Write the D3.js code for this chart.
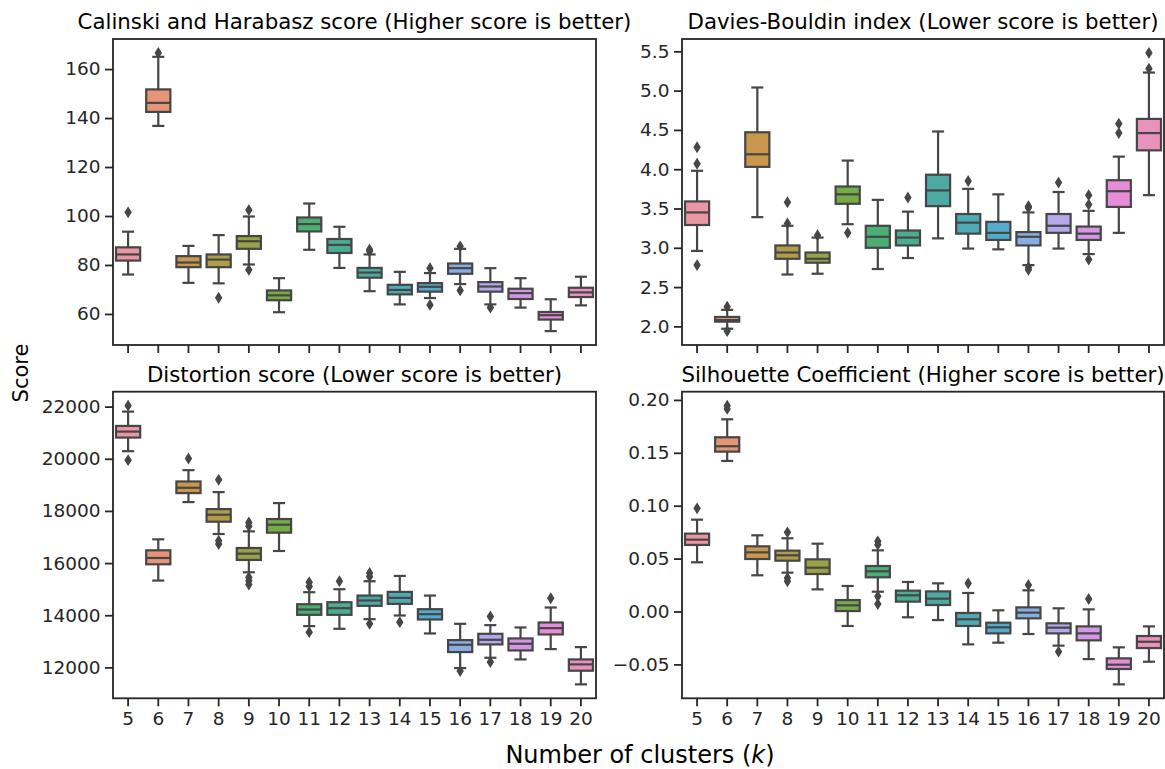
<!DOCTYPE html>
<html>
<head>
<meta charset="utf-8">
<script src="https://cdn.jsdelivr.net/npm/d3@7"></script>
<style>
  html, body { margin: 0; padding: 0; background: #fff; }
  svg { display: block; font-family: "DejaVu Sans", sans-serif; }
</style>
</head>
<body>
<svg id="chart" width="1165" height="769"></svg>
<script>
// Cluster counts on the x axis
const clusterCounts = [5, 6, 7, 8, 9, 10, 11, 12, 13, 14, 15, 16, 17, 18, 19, 20];

// Box statistics per k: [lower whisker, Q1, median, Q3, upper whisker]
const calinskiStats = [
  [76.1, 81.8, 84.3, 87.2, 93.6], [136.8, 142.5, 146.2, 151.7, 165.0],
  [72.7, 79.1, 81.0, 83.6, 87.8], [72.5, 79.1, 82.2, 84.3, 92.2],
  [80.2, 86.6, 89.7, 91.8, 99.8], [60.7, 65.6, 67.6, 69.6, 74.6],
  [86.2, 93.7, 96.7, 99.4, 105.1], [78.8, 84.9, 88.2, 90.6, 95.6],
  [69.3, 74.8, 76.9, 78.8, 84.3], [63.9, 68.0, 69.8, 71.9, 77.2],
  [66.5, 69.1, 71.1, 72.6, 76.7], [72.2, 76.4, 78.7, 80.6, 86.6],
  [63.9, 69.1, 71.2, 73.0, 78.7], [62.6, 66.1, 68.5, 70.3, 74.6],
  [53.0, 57.7, 59.5, 60.8, 66.0], [63.5, 66.9, 68.8, 70.7, 75.2]
];
const calinskiOutliers = [
  [101.5], [166.6], [], [66.6], [102.4, 78.0], [], [], [],
  [85.6, 86.3], [], [78.7, 63.7], [87.6, 69.6], [62.6], [], [], []
];

const daviesStats = [
  [2.96, 3.29, 3.45, 3.59, 3.98], [1.97, 2.06, 2.08, 2.12, 2.21],
  [3.39, 4.03, 4.19, 4.47, 5.04], [2.66, 2.86, 2.94, 3.03, 3.28],
  [2.67, 2.81, 2.86, 2.94, 3.13], [3.30, 3.56, 3.68, 3.78, 4.11],
  [2.73, 3.00, 3.14, 3.28, 3.61], [2.87, 3.03, 3.13, 3.22, 3.46],
  [3.12, 3.53, 3.73, 3.93, 4.48], [2.99, 3.18, 3.32, 3.43, 3.75],
  [2.98, 3.10, 3.19, 3.33, 3.68], [2.78, 3.03, 3.14, 3.20, 3.45],
  [2.99, 3.19, 3.28, 3.43, 3.71], [2.92, 3.10, 3.18, 3.27, 3.47],
  [3.19, 3.52, 3.72, 3.86, 4.16], [3.67, 4.24, 4.46, 4.64, 5.23]
];
const daviesOutliers = [
  [4.28, 4.07, 2.78], [2.25, 1.94], [], [3.58, 3.31], [3.16], [3.19], [], [3.64],
  [], [3.85], [], [3.53, 3.51, 2.75, 2.72], [3.83], [3.67, 3.55, 2.85], [4.58, 4.46], [5.48, 5.28]
];

const distortionStats = [
  [20291, 20814, 21043, 21260, 21809], [15329, 15954, 16196, 16490, 16911],
  [18339, 18684, 18888, 19130, 19564], [17115, 17587, 17855, 18071, 18722],
  [15648, 16120, 16362, 16579, 17217], [16464, 17166, 17472, 17689, 18301],
  [13582, 14015, 14219, 14423, 14883], [13480, 14015, 14270, 14500, 14997],
  [13850, 14360, 14564, 14755, 15304], [13990, 14436, 14666, 14895, 15508],
  [13301, 13837, 14041, 14232, 14755], [11974, 12587, 12867, 13046, 13671],
  [12370, 12880, 13059, 13288, 13620], [12306, 12650, 12906, 13110, 13531],
  [12702, 13263, 13505, 13722, 14296], [11349, 11872, 12115, 12306, 12778]
];
const distortionOutliers = [
  [22038, 19946], [], [20010], [19194, 16860, 16730],
  [17561, 17408, 15457, 15329, 15176], [], [15265, 15100, 13352], [15304],
  [15622, 15482, 13671], [13735], [], [11860], [13952, 12204], [], [14653], []
];

const silhouetteStats = [
  [0.0465, 0.0629, 0.0679, 0.0736, 0.0868], [0.1423, 0.1511, 0.1562, 0.1647, 0.1817],
  [0.0342, 0.0496, 0.0559, 0.0616, 0.0720], [0.0367, 0.0480, 0.0531, 0.0575, 0.0692],
  [0.0209, 0.0354, 0.0414, 0.0493, 0.0641], [-0.0137, 0.0004, 0.0058, 0.0108, 0.0241],
  [0.0187, 0.0323, 0.0380, 0.0430, 0.0578], [-0.0055, 0.0093, 0.0153, 0.0197, 0.0279],
  [-0.0081, 0.0061, 0.0121, 0.0190, 0.0266], [-0.0311, -0.0137, -0.0074, -0.0014, 0.0175],
  [-0.0295, -0.0207, -0.0150, -0.0106, 0.0011], [-0.0213, -0.0065, -0.0011, 0.0039, 0.0200],
  [-0.0323, -0.0207, -0.0153, -0.0112, 0.0030], [-0.0450, -0.0273, -0.0207, -0.0141, 0.0020],
  [-0.0689, -0.0544, -0.0503, -0.0443, -0.0339], [-0.0475, -0.0346, -0.0286, -0.0232, -0.0141]
];
const silhouetteOutliers = [
  [0.0975], [0.1946, 0.1915], [], [0.0748, 0.0317, 0.0285], [], [], [0.0663, 0.0632, 0.0143, 0.0071], [],
  [], [0.0266], [], [0.0250], [-0.0380], [0.0118], [], []
];

// Y tick values
const calinskiTicks = [60, 80, 100, 120, 140, 160];
const daviesTicks = [2.0, 2.5, 3.0, 3.5, 4.0, 4.5, 5.0, 5.5];
const distortionTicks = [12000, 14000, 16000, 18000, 20000, 22000];
const silhouetteTicks = [-0.05, 0.00, 0.05, 0.10, 0.15, 0.20];

// ---------- HUSL palette (same maths as seaborn's husl module) ----------
const M = [[3.2406, -1.5372, -0.4986], [-0.9689, 1.8758, 0.0415], [0.0557, -0.2040, 1.0570]];
const refU = 0.19784, refV = 0.46834, labE = 0.008856, labK = 903.3;
function maxChroma(L, H) {
  const hr = H * Math.PI / 180, sinH = Math.sin(hr), cosH = Math.cos(hr);
  const sub1 = Math.pow(L + 16, 3) / 1560896;
  const sub2 = sub1 > labE ? sub1 : L / labK;
  let result = Infinity;
  for (const [m1, m2, m3] of M) {
    const top = (0.99915 * m1 + 1.05122 * m2 + 1.14460 * m3) * sub2;
    const rb = 0.86330 * m3 - 0.17266 * m2;
    const lb = 0.12949 * m3 - 0.38848 * m1;
    const bottom = (rb * sinH + lb * cosH) * sub2;
    for (const t of [0, 1]) {
      const C = L * (top - 1.05122 * t) / (bottom + 0.17266 * sinH * t);
      if (C > 0 && C < result) result = C;
    }
  }
  return result;
}
function fromLinear(c) { return c <= 0.0031308 ? 12.92 * c : 1.055 * Math.pow(c, 1 / 2.4) - 0.055; }
function huslToRgb(H, S, L) {
  const C = maxChroma(L, H) / 100 * S;
  const hr = H * Math.PI / 180;
  const U = Math.cos(hr) * C, V = Math.sin(hr) * C;
  const t = (L + 16) / 116;
  const Y = Math.pow(t, 3) > labE ? Math.pow(t, 3) : (116 * t - 16) / labK;
  const vU = U / (13 * L) + refU, vV = V / (13 * L) + refV;
  const X = -(9 * Y * vU) / ((vU - 4) * vV - vU * vV);
  const Z = (9 * Y - 15 * vV * Y - vV * X) / (3 * vV);
  return M.map(r => Math.max(0, Math.min(1, fromLinear(r[0] * X + r[1] * Y + r[2] * Z))));
}
function huslPalette(n, h = 0.01, s = 0.9, l = 0.7) {
  const out = [];
  for (let i = 0; i < n; i++) {
    const hue = ((i / n + h) % 1) * 359;
    out.push(huslToRgb(hue, s * 99, l * 99));
  }
  return out;
}
// Boxes use the palette desaturated to 75%
const boxColors = huslPalette(clusterCounts.length).map(([r, g, b]) => {
  const c = d3.hsl(d3.rgb(r * 255, g * 255, b * 255));
  c.s *= 0.75;
  return c.rgb();
});
const minLight = d3.min(boxColors, c => d3.hsl(c).l);
const grayLevel = Math.round(minLight * 0.6 * 255);
const lineGray = d3.rgb(grayLevel, grayLevel, grayLevel).formatHex();

// ---------- layout ----------
const svg = d3.select("#chart");
const ink = "#262626";
const tickFont = 18.5;
const colX = [[113, 596], [682, 1164]];
const rowY = [[39, 345], [391.7, 698.3]];

const panels = [
  { title: "Calinski and Harabasz score (Higher score is better)", stats: calinskiStats, outliers: calinskiOutliers, ticks: calinskiTicks, fmt: d3.format("d"), col: 0, row: 0 },
  { title: "Davies-Bouldin index (Lower score is better)", stats: daviesStats, outliers: daviesOutliers, ticks: daviesTicks, fmt: d3.format(".1f"), col: 1, row: 0 },
  { title: "Distortion score (Lower score is better)", stats: distortionStats, outliers: distortionOutliers, ticks: distortionTicks, fmt: d3.format("d"), col: 0, row: 1 },
  { title: "Silhouette Coefficient (Higher score is better)", stats: silhouetteStats, outliers: silhouetteOutliers, ticks: silhouetteTicks, fmt: d3.format(".2f"), col: 1, row: 1 }
];

panels.forEach(p => {
  const [x0, x1] = colX[p.col];
  const [y0, y1] = rowY[p.row];
  const allVals = p.stats.flat().concat(p.outliers.flat());
  const lo = d3.min(allVals), hi = d3.max(allVals), pad = (hi - lo) * 0.05;

  const x = d3.scaleBand().domain(clusterCounts).range([x0, x1]).paddingInner(0).paddingOuter(0);
  const y = d3.scaleLinear().domain([lo - pad, hi + pad]).range([y1, y0]);
  const bw = x.bandwidth() * 0.8;
  const capW = bw * 0.5;
  const lw = 2.2;

  const g = svg.append("g");

  const boxes = g.selectAll("g.box").data(p.stats.map((s, i) => ({ k: clusterCounts[i], s, out: p.outliers[i], color: boxColors[i] })))
    .join("g").attr("class", "box");

  boxes.each(function (d) {
    const sel = d3.select(this);
    const cx = x(d.k) + x.bandwidth() / 2;
    const [wl, q1, med, q3, wh] = d.s;
    // whiskers
    sel.append("line").attr("x1", cx).attr("x2", cx).attr("y1", y(q3)).attr("y2", y(wh))
      .attr("stroke", lineGray).attr("stroke-width", lw);
    sel.append("line").attr("x1", cx).attr("x2", cx).attr("y1", y(q1)).attr("y2", y(wl))
      .attr("stroke", lineGray).attr("stroke-width", lw);
    // caps
    [wl, wh].forEach(v => sel.append("line")
      .attr("x1", cx - capW / 2).attr("x2", cx + capW / 2).attr("y1", y(v)).attr("y2", y(v))
      .attr("stroke", lineGray).attr("stroke-width", lw));
    // box
    sel.append("rect").attr("x", cx - bw / 2).attr("width", bw)
      .attr("y", y(q3)).attr("height", y(q1) - y(q3))
      .attr("fill", d.color).attr("stroke", lineGray).attr("stroke-width", lw);
    // median
    sel.append("line").attr("x1", cx - bw / 2).attr("x2", cx + bw / 2).attr("y1", y(med)).attr("y2", y(med))
      .attr("stroke", lineGray).attr("stroke-width", lw);
    // outliers as thin diamonds
    sel.selectAll("path.flier").data(d.out).join("path").attr("class", "flier")
      .attr("d", v => {
        const py = y(v), hh = 4.8, hw = 3.0;
        return `M${cx},${py - hh}L${cx + hw},${py}L${cx},${py + hh}L${cx - hw},${py}Z`;
      })
      .attr("fill", lineGray).attr("stroke", lineGray).attr("stroke-width", 1.2);
  });

  // axes
  const yAxis = d3.axisLeft(y).tickValues(p.ticks).tickFormat(p.fmt).tickSize(8).tickPadding(4.5);
  const gy = g.append("g").attr("transform", `translate(${x0},0)`).call(yAxis);
  const xAxis = d3.axisBottom(x).tickSize(8).tickPadding(6);
  if (p.row === 0) xAxis.tickFormat("");
  const gx = g.append("g").attr("transform", `translate(0,${y1})`).call(xAxis);
  [gx, gy].forEach(ax => {
    ax.select(".domain").remove();
    ax.selectAll(".tick line").attr("stroke", ink).attr("stroke-width", 1.8);
    ax.selectAll(".tick text").attr("fill", ink).style("font-size", tickFont + "px")
      .style("font-family", "DejaVu Sans");
  });

  // frame
  g.append("rect").attr("x", x0).attr("y", y0).attr("width", x1 - x0).attr("height", y1 - y0)
    .attr("fill", "none").attr("stroke", ink).attr("stroke-width", 1.8);

  // title
  g.append("text").attr("x", (x0 + x1) / 2).attr("y", y0 - 10)
    .attr("text-anchor", "middle").attr("fill", "#000").style("font-size", "21.3px")
    .text(p.title);
});

// shared axis labels
svg.append("text").attr("transform", "translate(28,373) rotate(-90)")
  .attr("text-anchor", "middle").attr("fill", "#000").style("font-size", "21px").text("Score");

const xl = svg.append("text").attr("x", 640).attr("y", 763).attr("text-anchor", "middle")
  .attr("fill", "#000").style("font-size", "24px");
xl.append("tspan").text("Number of clusters (");
xl.append("tspan").style("font-style", "italic").text("k");
xl.append("tspan").text(")");
</script>
</body>
</html>
